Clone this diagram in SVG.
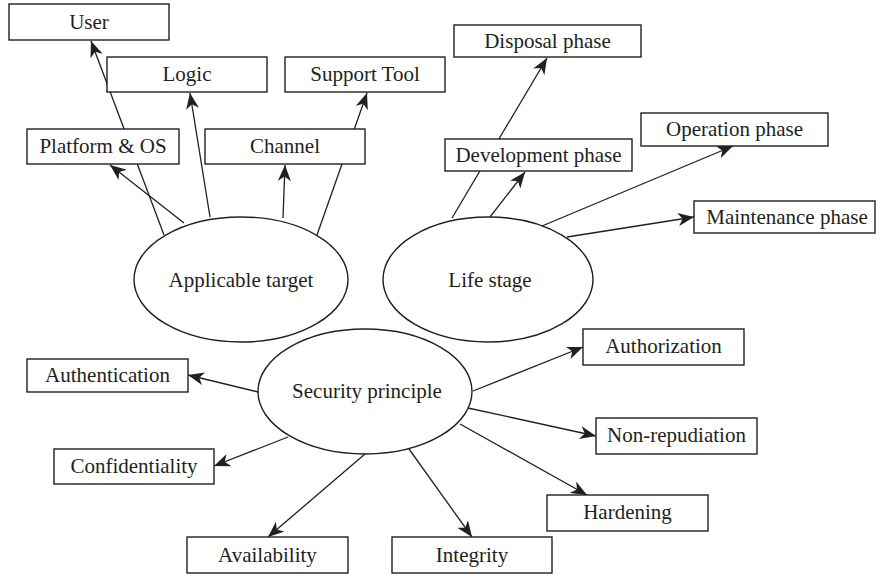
<svg xmlns="http://www.w3.org/2000/svg" width="876" height="576" viewBox="0 0 876 576">
<defs>
<marker id="arr" markerUnits="userSpaceOnUse" markerWidth="17" markerHeight="13" refX="16" refY="6.5" orient="auto">
<path d="M0,0 L16,6.5 L0,13 L4.5,6.5 Z" fill="#231f20"/>
</marker>
<style>
.c line{stroke:#231f20;stroke-width:1.3;marker-end:url(#arr)}
rect{fill:#fff;stroke:#231f20;stroke-width:1.4}
ellipse{fill:#fff;stroke:#231f20;stroke-width:1.4}
text{font-family:"Liberation Serif",serif;font-size:21px;fill:#231f20;text-anchor:middle}
</style>
</defs>
<rect x="0" y="0" width="876" height="576" style="stroke:none"/>
<g class="c" id="connectors">
<line x1="164" y1="235" x2="91" y2="41"/>
<line x1="210" y1="217" x2="190" y2="93"/>
<line x1="184" y1="223" x2="110" y2="165"/>
<line x1="283" y1="218" x2="285" y2="165"/>
<line x1="317" y1="235" x2="367" y2="93"/>
<line x1="452" y1="218" x2="547" y2="58"/>
<line x1="490" y1="217" x2="525" y2="172"/>
<line x1="542" y1="226" x2="733" y2="146"/>
<line x1="567" y1="237" x2="694" y2="217"/>
<line x1="258" y1="392" x2="188" y2="375"/>
<line x1="288" y1="437" x2="214" y2="466"/>
<line x1="365" y1="454" x2="268" y2="537"/>
<line x1="409" y1="449" x2="472" y2="537"/>
<line x1="460" y1="424" x2="587" y2="495"/>
<line x1="468" y1="408" x2="596" y2="436"/>
<line x1="473" y1="391" x2="583" y2="347"/>
</g>
<g id="applicable"><ellipse cx="241" cy="279.5" rx="107" ry="62.5"/><text x="241" y="287">Applicable target</text></g>
<g id="lifestage"><ellipse cx="488" cy="279.5" rx="105" ry="62.5"/><text x="490" y="287">Life stage</text></g>
<g id="security"><ellipse cx="365" cy="391.5" rx="107" ry="62.5"/><text x="367" y="398">Security principle</text></g>
<g id="user"><rect x="9" y="4" width="160" height="36"/><text x="89" y="29">User</text></g>
<g id="logic"><rect x="107" y="57" width="160" height="35"/><text x="187" y="81">Logic</text></g>
<g id="support"><rect x="285" y="57" width="160" height="35"/><text x="365" y="81">Support Tool</text></g>
<g id="platform"><rect x="27" y="129" width="152" height="35"/><text x="103" y="153">Platform &amp; OS</text></g>
<g id="channel"><rect x="205" y="129" width="160" height="35"/><text x="285" y="153">Channel</text></g>
<g id="disposal"><rect x="454" y="25" width="187" height="32"/><text x="547.5" y="48">Disposal phase</text></g>
<g id="development"><rect x="445" y="139" width="187" height="32"/><text x="538.5" y="162">Development phase</text></g>
<g id="operation"><rect x="641" y="113" width="187" height="33"/><text x="734.5" y="136">Operation phase</text></g>
<g id="maintenance"><rect x="694" y="201" width="181" height="32"/><text x="787" y="224">Maintenance phase</text></g>
<g id="authentication"><rect x="27" y="359" width="161" height="33"/><text x="107.5" y="382">Authentication</text></g>
<g id="confidentiality"><rect x="54" y="449" width="160" height="35"/><text x="134" y="473">Confidentiality</text></g>
<g id="availability"><rect x="187" y="537" width="161" height="36"/><text x="267.5" y="562">Availability</text></g>
<g id="integrity"><rect x="392" y="537" width="160" height="36"/><text x="472" y="562">Integrity</text></g>
<g id="authorization"><rect x="583" y="329" width="161" height="36"/><text x="663.5" y="353">Authorization</text></g>
<g id="nonrepudiation"><rect x="596" y="418" width="161" height="36"/><text x="676.5" y="442">Non-repudiation</text></g>
<g id="hardening"><rect x="547" y="495" width="161" height="36"/><text x="627.5" y="519">Hardening</text></g>
</svg>
